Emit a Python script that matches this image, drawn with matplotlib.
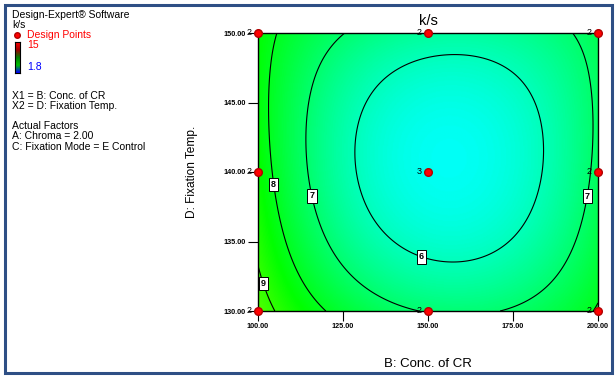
import numpy as np
import matplotlib
matplotlib.use('Agg')
import matplotlib.pyplot as plt
from matplotlib.colors import LinearSegmentedColormap
from matplotlib.patches import Rectangle

plt.rcParams['font.family'] = ['Liberation Sans', 'DejaVu Sans']

# factor levels of the 3x3 design
conc = [100.0, 150.0, 200.0]      # B: Conc. of CR
temp = [130.0, 140.0, 150.0]      # D: Fixation Temp.
# predicted k/s at the design points (rows = temp, cols = conc)
ks = [[9.40, 6.96, 8.08],
      [8.46, 5.28, 7.19],
      [8.36, 6.40, 7.32]]
counts = [[2, 2, 2],
          [2, 3, 2],
          [2, 2, 2]]
levels = [6, 7, 8, 9]
xticks = [100, 125, 150, 175, 200]
yticks = [130, 135, 140, 145, 150]
ks_min, ks_max = 1.8, 15
label_pos = [(104.1, 139.1), (116.2, 138.3), (196.2, 138.3), (148.5, 134.2), (101.8, 132.0)]

# biquadratic surface through the 3x3 predictions
def basis(u):
    return [u * (u - 1) / 2, 1 - u ** 2, u * (u + 1) / 2]

xs = np.linspace(conc[0], conc[-1], 300)
ys = np.linspace(temp[0], temp[-1], 300)
X, Y = np.meshgrid(xs, ys)
U = (X - conc[1]) / (conc[2] - conc[1])
V = (Y - temp[1]) / (temp[2] - temp[1])
bu = basis(U)
bv = basis(V)
Z = np.zeros_like(X)
for i in range(3):
    for j in range(3):
        Z += ks[i][j] * bv[i] * bu[j]

cmap = LinearSegmentedColormap.from_list('de', [(0, '#0000ff'), (0.25, '#00ffff'), (0.5, '#00ff00'),
                                                (0.75, '#ffff00'), (1, '#ff0000')])

fig = plt.figure(figsize=(6.16, 3.78), dpi=100)
ax = fig.add_axes([258 / 616, 1 - 311 / 378, 340 / 616, 278 / 378])
ax.imshow(Z, extent=[xs[0], xs[-1], ys[0], ys[-1]], origin='lower', aspect='auto',
          cmap=cmap, vmin=ks_min, vmax=ks_max, interpolation='bilinear')
cs = ax.contour(X, Y, Z, levels=levels, colors='black', linewidths=0.8)
lbls = ax.clabel(cs, fmt='%d', fontsize=6.5, inline=False, manual=label_pos)
for t in lbls:
    t.set_rotation(0)
    t.set_fontweight('bold')
    t.set_bbox(dict(boxstyle='square,pad=0.25', fc='white', ec='black', lw=0.7))

# design points
for i in range(3):
    for j in range(3):
        ax.plot(conc[j], temp[i], 'o', color='#ff0000', mec='#b00000', ms=5.5, clip_on=False, zorder=5)
        ax.annotate(str(counts[i][j]), (conc[j], temp[i]), xytext=(-6.5, 0.5), textcoords='offset points',
                    fontsize=6.5, ha='center', va='center', annotation_clip=False, zorder=5)

ax.set_xlim(conc[0], conc[-1])
ax.set_ylim(temp[0], temp[-1])
ax.set_xticks(xticks)
ax.set_yticks(yticks)
ax.set_xticklabels(['%.2f' % v for v in xticks], fontsize=5.2, fontweight='bold')
ax.set_yticklabels(['%.2f' % v for v in yticks], fontsize=5.2, fontweight='bold')
ax.tick_params(direction='out', length=7, width=0.8, pad=2)
for s in ax.spines.values():
    s.set_linewidth(1.0)
ax.set_title('k/s', fontsize=10.5, pad=6)
ax.set_xlabel('B: Conc. of CR', fontsize=9.5, labelpad=20)
ax.set_ylabel('D: Fixation Temp.', fontsize=8.6, labelpad=18)

# left info panel
def ftext(x, y, s, **kw):
    fig.text(x / 616, 1 - y / 378, s, va='center', ha='left', **kw)

ftext(12, 15, 'Design-Expert® Software', fontsize=7.5)
ftext(12, 24.5, 'k/s', fontsize=7.5)
fig.add_artist(plt.Line2D([16.7 / 616], [1 - 35 / 378], marker='o', color='#ff0000', mec='#b00000', ms=4))
ftext(27, 35, 'Design Points', fontsize=7.5, color='#ff0000')
cax = fig.add_axes([15 / 616, 1 - 73 / 378, 5 / 616, 31 / 378])
cax.imshow(np.linspace(0, 1, 50)[:, None], aspect='auto', origin='lower',
           cmap=LinearSegmentedColormap.from_list('leg', ['#0000ff', '#00c000', '#008000', '#a00000', '#ff0000']))
cax.set_xticks([])
cax.set_yticks([])
ftext(27, 44.5, '15', fontsize=7.5, color='#ff0000')
ftext(27, 66.5, '1.8', fontsize=7.5, color='#0000ff')
ftext(12, 96, 'X1 = B: Conc. of CR', fontsize=7.5)
ftext(12, 106, 'X2 = D: Fixation Temp.', fontsize=7.5)
ftext(12, 126, 'Actual Factors', fontsize=7.5)
ftext(12, 136, 'A: Chroma = 2.00', fontsize=7.5)
ftext(12, 147, 'C: Fixation Mode = E Control', fontsize=7.5)

# window frame
fig.add_artist(Rectangle((4.5 / 616, 1 - 372.5 / 378), 607 / 616, 368 / 378, transform=fig.transFigure,
                         fill=False, ec='#2e4f85', lw=2.2))

fig.savefig('out.png', dpi=100)
